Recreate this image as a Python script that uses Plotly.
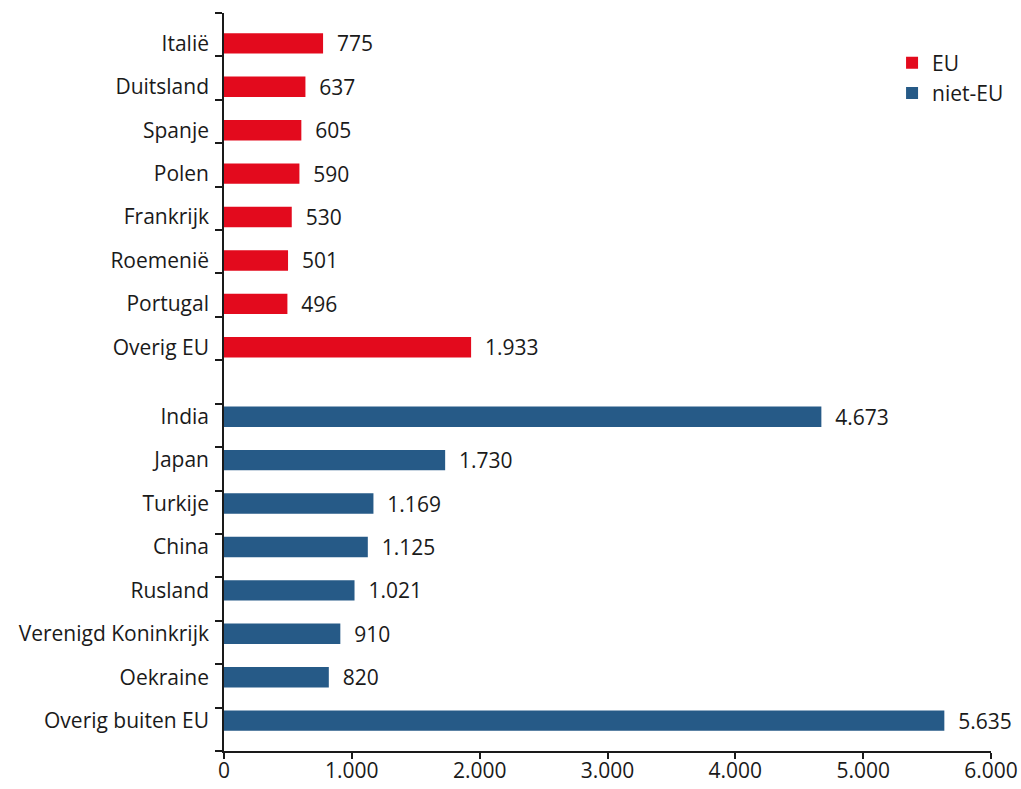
import plotly.graph_objects as go

eu_countries = ["Italië", "Duitsland", "Spanje", "Polen", "Frankrijk", "Roemenië", "Portugal", "Overig EU"]
eu_values = [775, 637, 605, 590, 530, 501, 496, 1933]
non_eu_countries = ["India", "Japan", "Turkije", "China", "Rusland", "Verenigd Koninkrijk", "Oekraine", "Overig buiten EU"]
non_eu_values = [4673, 1730, 1169, 1125, 1021, 910, 820, 5635]
x_ticks = [0, 1000, 2000, 3000, 4000, 5000, 6000]

RED = "#E30A1D"
BLUE = "#265A87"
INK = "#1a1a1a"
FONT = "Open Sans"
FS = 21
NB = "\u00a0\u00a0"
BAR_W = 0.47      # bar thickness in slot units
BAR_SHIFT = 0.2   # offset of bar within its slot (Excel clustered-bar look)

def fmt(v):
    return f"{v:,}".replace(",", ".")

# slot layout (top -> bottom): 8 EU slots, 1 empty slot, 8 non-EU slots
n_eu = len(eu_countries)
n_slots = n_eu + 1 + len(non_eu_countries)
eu_pos = [i + 0.5 + BAR_SHIFT for i in range(n_eu)]
non_eu_pos = [n_eu + 1 + j + 0.5 - BAR_SHIFT for j in range(len(non_eu_countries))]
boundaries = list(range(n_slots + 1))

fig = go.Figure()
fig.add_trace(go.Bar(
    name="EU", orientation="h",
    y=eu_pos, x=eu_values, width=BAR_W,
    marker=dict(color=RED, line=dict(width=0)),
    text=[NB + fmt(v) for v in eu_values],
    textposition="outside", constraintext="none", cliponaxis=False,
    textfont=dict(family=FONT, size=FS, color=INK),
    hoverinfo="skip",
))
fig.add_trace(go.Bar(
    name="niet-EU", orientation="h",
    y=non_eu_pos, x=non_eu_values, width=BAR_W,
    marker=dict(color=BLUE, line=dict(width=0)),
    text=[NB + fmt(v) for v in non_eu_values],
    textposition="outside", constraintext="none", cliponaxis=False,
    textfont=dict(family=FONT, size=FS, color=INK),
    hoverinfo="skip",
))
# an invisible trace so that the label axis is drawn
fig.add_trace(go.Scatter(x=[None], y=[None], yaxis="y2", showlegend=False, hoverinfo="skip"))

yrange = [n_slots, 0]
fig.update_layout(
    width=1021, height=789,
    margin=dict(l=224, r=30, t=13, b=38),
    paper_bgcolor="white", plot_bgcolor="white",
    barmode="overlay",
    font=dict(family=FONT, size=FS, color=INK),
    showlegend=True,
    legend=dict(x=0.871, y=0.96, xanchor="left", yanchor="top",
                font=dict(family=FONT, size=FS, color=INK),
                bgcolor="rgba(0,0,0,0)", tracegroupgap=0, itemwidth=30),
    xaxis=dict(
        range=[0, 6000], tickvals=x_ticks,
        ticktext=[fmt(v) for v in x_ticks],
        showgrid=False, zeroline=False, automargin=False,
        showline=True, linecolor=INK, linewidth=1.5,
        ticks="outside", ticklen=6, tickwidth=1.5, tickcolor=INK,
        ticklabelstandoff=-6,
        tickfont=dict(family=FONT, size=FS, color=INK),
    ),
    yaxis=dict(
        range=yrange, tickvals=boundaries, showticklabels=False,
        showgrid=False, zeroline=False, automargin=False,
        showline=True, linecolor=INK, linewidth=1.5,
        ticks="outside", ticklen=7, tickwidth=1.5, tickcolor=INK,
    ),
    yaxis2=dict(
        overlaying="y", side="left", range=yrange,
        tickvals=eu_pos + non_eu_pos, ticktext=eu_countries + non_eu_countries,
        showgrid=False, zeroline=False, automargin=False, showline=False,
        ticks="", ticklabelstandoff=14,
        tickfont=dict(family=FONT, size=FS, color=INK),
    ),
)

fig.write_html("out.html", config={"displayModeBar": False},
               post_script="document.body.style.margin='0';")
